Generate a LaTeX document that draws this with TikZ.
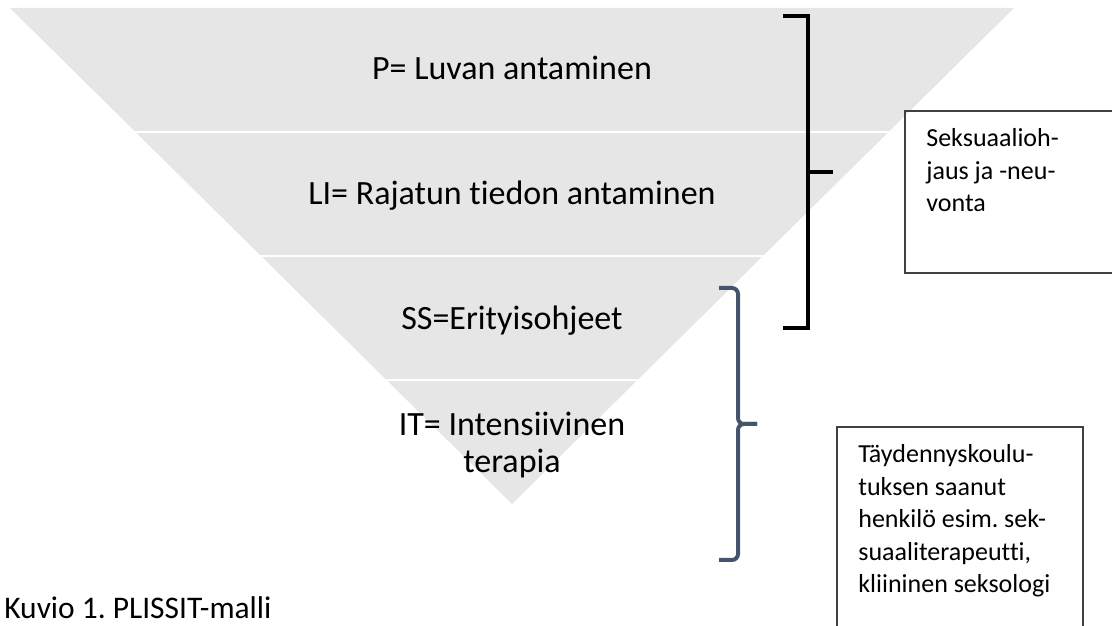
\documentclass[tikz,border=0pt]{standalone}
\usepackage{fontspec}
\setmainfont{Carlito}[Ligatures=NoCommon]
\usepackage{tkz-euclide}
\definecolor{band}{HTML}{E7E6E6}
\definecolor{bracecol}{HTML}{44546A}
\definecolor{boxline}{HTML}{404040}
\frenchspacing
\tikzset{
  level/.style={anchor=base, inner sep=0pt, font=\fontsize{19.35}{21.05}\selectfont},
  boxtext/.style={anchor=base west, inner sep=0pt, text width=4.3cm, align=flush left,
    font=\fontsize{14.8}{18.4}\selectfont},
  blackbracket/.style={black, line width=0.094cm, miter limit=4},
  bluebrace/.style={bracecol, line width=0.08cm, rounded corners=0.12cm},
  infobox/.style={boxline, line width=0.03cm}
}

\begin{document}
\begin{tikzpicture}[scale=1]
  \useasboundingbox (0,0) rectangle (22.24,12.52);

  \tkzDefPoint(0.20,12.36){A}
  \tkzDefPoint(20.28,12.36){B}
  \tkzDefPoint(10.24,2.44){C}
  \tkzDrawPolygon[fill=band,draw=none](A,B,C)

  % gaps between the levels
  \tkzDefPoint(0,9.88){G1} \tkzDefPoint(22,9.88){H1}
  \tkzInterLL(A,C)(G1,H1) \tkzGetPoint{L1}
  \tkzInterLL(B,C)(G1,H1) \tkzGetPoint{R1}
  \tkzDrawSegment[white,line width=0.05cm](L1,R1)

  \tkzDefPoint(0,7.40){G2} \tkzDefPoint(22,7.40){H2}
  \tkzInterLL(A,C)(G2,H2) \tkzGetPoint{L2}
  \tkzInterLL(B,C)(G2,H2) \tkzGetPoint{R2}
  \tkzDrawSegment[white,line width=0.05cm](L2,R2)

  \tkzDefPoint(0,4.92){G3} \tkzDefPoint(22,4.92){H3}
  \tkzInterLL(A,C)(G3,H3) \tkzGetPoint{L3}
  \tkzInterLL(B,C)(G3,H3) \tkzGetPoint{R3}
  \tkzDrawSegment[white,line width=0.05cm](L3,R3)

  % level texts
  \node[level] (P) at (10.24,10.92) {P= Luvan antaminen};
  \node[level] (LI) at (10.24,8.42) {LI= Rajatun tiedon antaminen};
  \node[level] (SS) at (10.24,5.92) {SS=Erityisohjeet};
  \node[level, text width=8cm, align=flush center] (IT) at (10.24,3.80) {IT= Intensiivinen\\terapia};

  % brackets
  \draw[blackbracket] (15.66,12.20) -- (16.16,12.20) -- (16.16,5.96) -- (15.66,5.96);
  \draw[blackbracket] (16.16,9.08) -- (16.66,9.08);
  \draw[bluebrace] (14.38,6.76) -- (14.76,6.76) -- (14.76,4.04) -- (15.14,4.04);
  \draw[bluebrace] (14.38,1.32) -- (14.76,1.32) -- (14.76,4.04) -- (15.14,4.04);

  % boxes, cut by the page edge
  \draw[infobox] (22.24,10.30) -| (18.10,7.06) -- (22.24,7.06);
  \node[boxtext] (seks) at (18.52,9.58) {Seksuaalioh-\\jaus ja -neu-\\vonta};
  \draw[infobox] (16.74,0) |- (21.66,3.98) -- (21.66,0);
  \node[boxtext] (tayd) at (17.16,3.26) {Täydennyskoulu-\\tuksen saanut\\henkilö esim. sek-\\suaaliterapeutti,\\kliininen seksologi};

  \node[anchor=base west, inner sep=0pt, font=\fontsize{17.9}{21}\selectfont] (kuvio) at (0.08,0.14) {Kuvio 1. PLISSIT-malli};
\end{tikzpicture}
\end{document}
